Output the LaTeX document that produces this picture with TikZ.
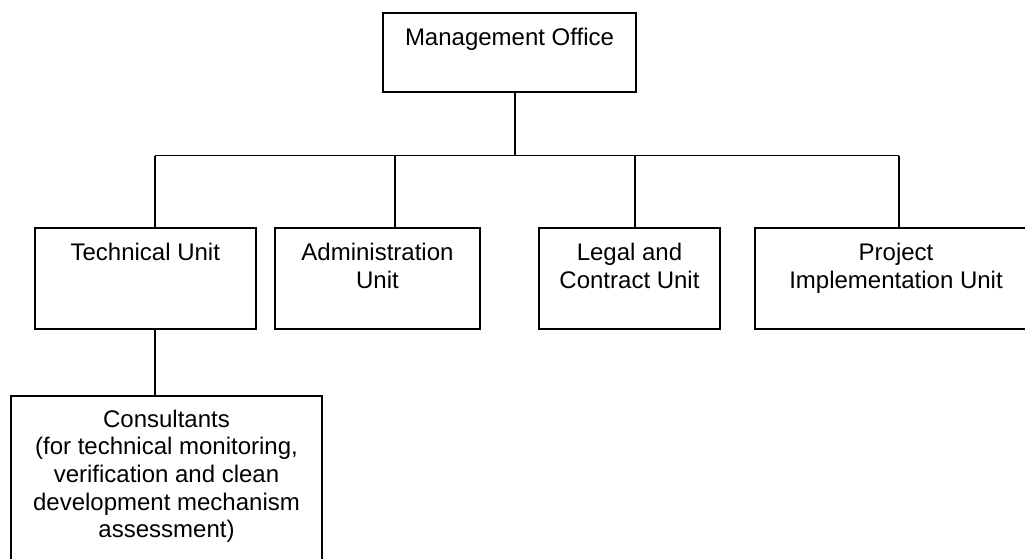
\documentclass[tikz,border=0pt]{standalone}
\usepackage{fontspec}
\setmainfont{Liberation Sans}
\begin{document}
\begin{tikzpicture}[x=1pt,y=-1pt,
  box/.style={draw, line width=1.9pt, rectangle, inner sep=0pt},
  lbl/.style={anchor=north, inner sep=0pt, yshift=-16pt, align=center,
    font=\fontsize{24}{27.6}\selectfont},
  conn/.style={line width=1.9pt}]
\useasboundingbox (0,0) rectangle (1025,558);
\clip (0,0) rectangle (1025,558);
\node[box, minimum width=253pt, minimum height=79pt,
  label={[lbl]north:Management Office}] (mgmt) at (509.5,52.2) {};
\node[box, minimum width=221pt, minimum height=101pt,
  label={[lbl]north:Technical Unit}] (tech) at (145.3,278.4) {};
\node[box, minimum width=205pt, minimum height=101pt,
  label={[lbl]north:Administration\\Unit}] (admin) at (377.5,278.4) {};
\node[box, minimum width=181pt, minimum height=101pt,
  label={[lbl]north:Legal and\\Contract Unit}] (legal) at (629.5,278.4) {};
\node[box, minimum width=282pt, minimum height=101pt,
  label={[lbl]north:Project\\Implementation Unit}] (proj) at (896,278.4) {};
\node[box, minimum width=311pt, minimum height=180pt,
  label={[lbl,yshift=1pt]north:Consultants\\(for technical monitoring,\\verification and clean\\development mechanism\\assessment)}] (cons) at (166.5,485.7) {};
\coordinate (bus) at (515,155.5);
\coordinate (bl) at (155,155.5);
\coordinate (ja) at (395,155.5);
\coordinate (jl) at (635,155.5);
\coordinate (br) at (899,155.5);
\draw[conn] (mgmt.south -| bus) -- (bus);
\draw[conn] (bl) -- (br);
\draw[conn] (bl) -- (bl |- tech.north);
\draw[conn] (ja) -- (ja |- admin.north);
\draw[conn] (jl) -- (jl |- legal.north);
\draw[conn] (br) -- (br |- proj.north);
\draw[conn] (tech.south -| bl) -- (cons.north -| bl);
\end{tikzpicture}
\end{document}
